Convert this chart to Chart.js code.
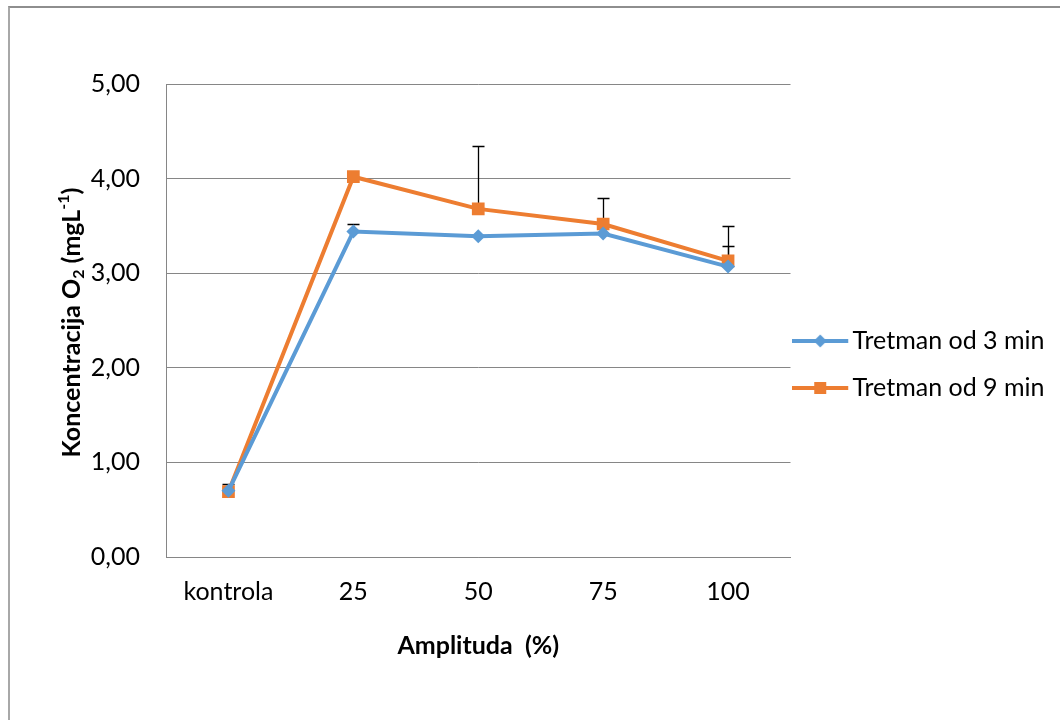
<!DOCTYPE html>
<html>
<head>
<meta charset="utf-8">
<script src="https://cdn.jsdelivr.net/npm/chart.js@4.4.1/dist/chart.umd.min.js"></script>
<style>
  html, body { margin: 0; padding: 0; background: #fff; overflow: hidden; }
  #wrap { position: relative; width: 1060px; height: 720px; }
  #frame { position: absolute; left: 8px; top: 6px; width: 1100px; height: 800px;
           border-left: 2px solid #a8a8a8; border-top: 2px solid #8e8e8e; pointer-events: none; }
</style>
</head>
<body>
<div id="wrap">
  <canvas id="chart" width="1060" height="720"></canvas>
  <div id="frame"></div>
</div>
<script>
// data
const categories = ['kontrola', '25', '50', '75', '100'];
const tretman3 = [0.70, 3.44, 3.39, 3.42, 3.07];
const tretman9 = [0.69, 4.02, 3.68, 3.52, 3.13];
const tretman3Err = [0.07, 0.08, 0, 0, 0.22];   // upper error only
const tretman9Err = [0, 0, 0.66, 0.27, 0.37];
const seriesLabels = ['Tretman od 3 min', 'Tretman od 9 min'];
const xTitle = 'Amplituda  (%)';
// y title as runs so the 2 and -1 can be sub/superscript
const yTitleRuns = [
  { t: 'Koncentracija O' }, { t: '2', sub: true }, { t: ' (mgL' }, { t: '-1', sup: true }, { t: ')' },
];

const FONT = 'Lato, "Open Sans", sans-serif';
const BLUE = '#5b9bd5', ORANGE = '#ed7d31', GRID = '#868686';

// small canvas used as legend symbol: line with marker, transparent tail on the right
function legendMark(color, shape) {
  const c = document.createElement('canvas');
  c.width = 68; c.height = 16;
  const g = c.getContext('2d');
  g.strokeStyle = color; g.lineWidth = 4;
  g.beginPath(); g.moveTo(0, 8); g.lineTo(56, 8); g.stroke();
  g.fillStyle = color;
  if (shape === 'diamond') {
    g.beginPath(); g.moveTo(28, 1.5); g.lineTo(34.5, 8); g.lineTo(28, 14.5); g.lineTo(21.5, 8); g.closePath(); g.fill();
  } else {
    g.fillRect(22, 2, 12, 12);
  }
  return c;
}
const marks = [legendMark(BLUE, 'diamond'), legendMark(ORANGE, 'square')];

const errorBars = {
  id: 'errorBars',
  beforeDatasetsDraw(chart) {
    const { ctx, scales: { x, y } } = chart;
    const errs = [tretman3Err, tretman9Err];
    ctx.save();
    ctx.strokeStyle = '#000';
    ctx.lineWidth = 1.3;
    chart.data.datasets.forEach((ds, di) => {
      ds.data.forEach((v, i) => {
        const e = errs[di][i];
        if (!e) return;
        const px = Math.round(x.getPixelForValue(i)) + 0.5;
        const y0 = y.getPixelForValue(v), y1 = Math.round(y.getPixelForValue(v + e)) + 0.5;
        ctx.beginPath();
        ctx.moveTo(px, y0); ctx.lineTo(px, y1);
        ctx.moveTo(px - 6, y1); ctx.lineTo(px + 6, y1);
        ctx.stroke();
      });
    });
    ctx.restore();
  },
};

const yTitle = {
  id: 'yTitle',
  afterDraw(chart) {
    const { ctx, chartArea } = chart;
    const big = 'bold 25px ' + FONT, small = 'bold 16px ' + FONT;
    ctx.save();
    ctx.translate(72, (chartArea.top + chartArea.bottom) / 2 + 2);
    ctx.rotate(-Math.PI / 2);
    ctx.fillStyle = '#000';
    ctx.textBaseline = 'middle';
    let total = 0;
    yTitleRuns.forEach(r => { ctx.font = (r.sub || r.sup) ? small : big; total += ctx.measureText(r.t).width; });
    let cx = -total / 2;
    yTitleRuns.forEach(r => {
      ctx.font = (r.sub || r.sup) ? small : big;
      const dy = r.sub ? 7 : r.sup ? -8 : 0;
      ctx.fillText(r.t, cx, dy);
      cx += ctx.measureText(r.t).width;
    });
    ctx.restore();
  },
};

new Chart(document.getElementById('chart').getContext('2d'), {
  type: 'line',
  data: {
    labels: categories,
    datasets: [
      { label: seriesLabels[0], data: tretman3, borderColor: BLUE, backgroundColor: BLUE,
        borderWidth: 4, pointStyle: 'rectRot', pointRadius: 7, pointBorderWidth: 0, tension: 0 },
      { label: seriesLabels[1], data: tretman9, borderColor: ORANGE, backgroundColor: ORANGE,
        borderWidth: 4, pointStyle: 'rect', pointRadius: 9, pointBorderWidth: 0, tension: 0 },
    ],
  },
  options: {
    responsive: false,
    animation: false,
    layout: { padding: { top: 84, left: 0, right: 6, bottom: 75 } },
    plugins: {
      tooltip: { enabled: false },
      legend: {
        position: 'right',
        labels: {
          color: '#000', font: { family: FONT, size: 25 },
          usePointStyle: true, pointStyleWidth: 27.5, padding: 22,
          generateLabels(chart) {
            const items = Chart.defaults.plugins.legend.labels.generateLabels(chart);
            items.forEach((it, i) => { it.pointStyle = marks[i]; });
            return items;
          },
        },
      },
    },
    scales: {
      x: {
        offset: true,
        grid: { display: false, drawTicks: false },
        border: { display: true, color: GRID, width: 1 },
        ticks: { color: '#000', font: { family: FONT, size: 25 }, padding: 20, maxRotation: 0 },
        title: { display: true, text: xTitle, color: '#000', font: { family: FONT, size: 25, weight: 'bold' },
                 padding: { top: 0, bottom: -16 } },
        afterFit(s) { s.height = 88; },
      },
      y: {
        min: 0, max: 5,
        grid: { color: GRID, drawTicks: false },
        border: { display: true, color: GRID, width: 1 },
        ticks: { stepSize: 1, color: '#000', font: { family: FONT, size: 25 }, padding: 26,
                 callback: v => v.toFixed(2).replace('.', ',') },
        afterFit(s) { s.width = 166; },
      },
    },
  },
  plugins: [errorBars, yTitle],
});
</script>
</body>
</html>
